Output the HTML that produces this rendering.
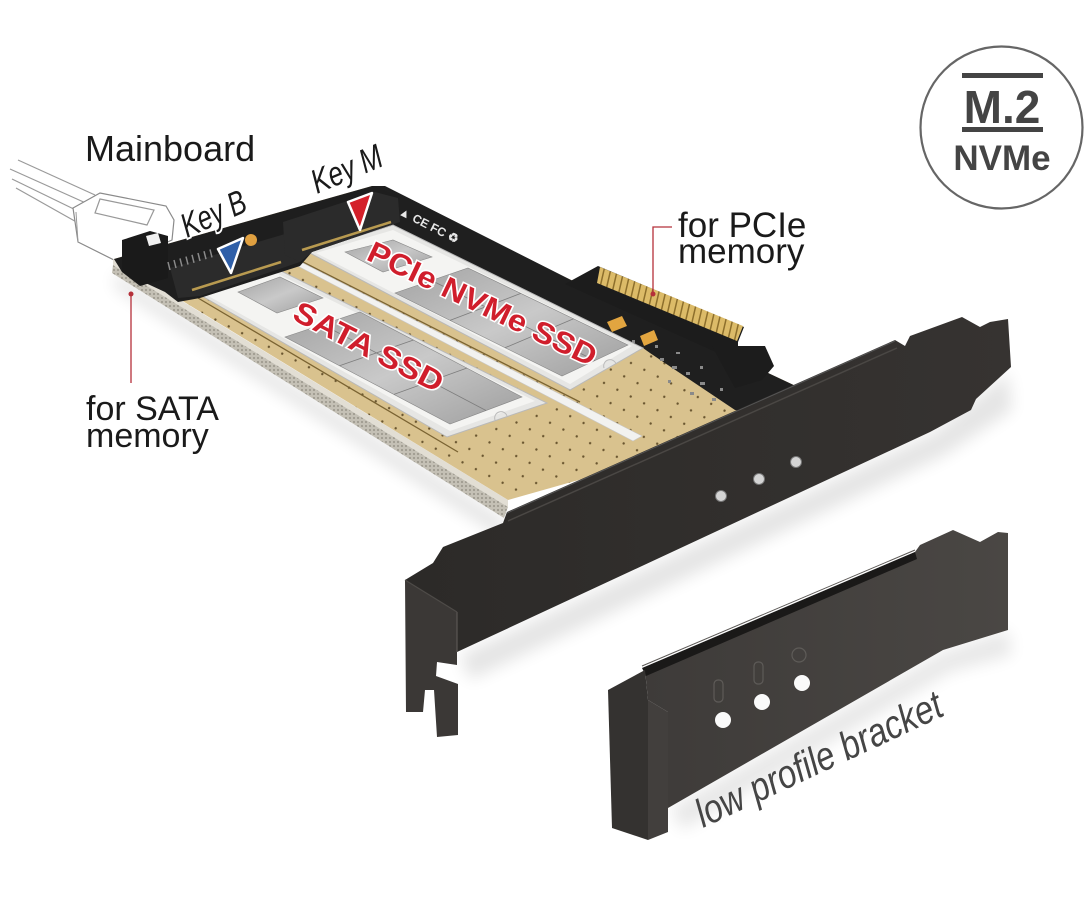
<!DOCTYPE html>
<html><head><meta charset="utf-8">
<style>
html,body{margin:0;padding:0;background:#fff;}
svg{display:block;}
text{font-family:"Liberation Sans",Arial,sans-serif;}
</style></head>
<body>
<svg width="1090" height="900" viewBox="0 0 1090 900" xmlns="http://www.w3.org/2000/svg">
<defs>
 <filter id="blur8" x="-30%" y="-30%" width="160%" height="160%"><feGaussianBlur stdDeviation="8"/></filter>
 <filter id="blur4" x="-30%" y="-30%" width="160%" height="160%"><feGaussianBlur stdDeviation="4"/></filter>
 <pattern id="dots" width="15" height="15" patternUnits="userSpaceOnUse" patternTransform="rotate(27)"><circle cx="7" cy="7" r="1.2" fill="#6a5630"/></pattern>
 <pattern id="fing" width="6.5" height="40" patternUnits="userSpaceOnUse" patternTransform="rotate(13)"><rect width="6.5" height="40" fill="#dcbb68"/><rect x="5" width="1.5" height="40" fill="#8d6f2c"/></pattern>
 <pattern id="rail" width="4" height="4" patternUnits="userSpaceOnUse"><rect width="4" height="4" fill="#c4c0b5"/><circle cx="2" cy="2" r="0.9" fill="#8c887d"/></pattern>
 <linearGradient id="chip" x1="0" y1="0" x2="1" y2="1"><stop offset="0" stop-color="#a3a3a3"/><stop offset="0.5" stop-color="#c9c9c9"/><stop offset="1" stop-color="#9e9e9e"/></linearGradient>
 <linearGradient id="brk" x1="0" y1="0" x2="1" y2="0"><stop offset="0" stop-color="#2c2a28"/><stop offset="1" stop-color="#363331"/></linearGradient>
 <linearGradient id="lp" x1="0" y1="0" x2="1" y2="0"><stop offset="0" stop-color="#3e3b39"/><stop offset="1" stop-color="#4a4744"/></linearGradient>
</defs>

<rect width="1090" height="900" fill="#fff"/>

<!-- shadows -->
<polygon points="115,272 505,520 505,540 115,288" fill="#000" opacity="0.10" filter="url(#blur8)"/>
<polygon points="460,655 935,432 1008,372 1012,410 945,455 470,680" fill="#000" opacity="0.10" filter="url(#blur8)"/>
<polygon points="670,808 943,652 1008,630 1012,655 950,672 682,830" fill="#000" opacity="0.09" filter="url(#blur8)"/>

<!-- cable -->
<g stroke="#9a9a9a" stroke-width="1.2" fill="none">
 <line x1="18" y1="160" x2="95" y2="195"/>
 <line x1="10" y1="169" x2="88" y2="204"/>
 <line x1="12" y1="179" x2="84" y2="214"/>
 <line x1="16" y1="188" x2="80" y2="224"/>
</g>
<!-- plug -->
<polygon points="73,208 100,193 166,206 174,220 172,240 132,258 118,262 78,242" fill="#fff" stroke="#8a8a8a" stroke-width="1.2"/>
<polygon points="100,199 154,210 147,225 95,213" fill="none" stroke="#999" stroke-width="1.2"/>
<line x1="78" y1="242" x2="76" y2="212" stroke="#999" stroke-width="1"/>

<!-- board base -->
<polygon points="114,259 372,186 800,388 790,420 508,500" fill="#d9c28e"/>
<polygon points="114,259 372,186 800,388 790,420 508,500" fill="url(#dots)"/>

<!-- front rail -->
<polygon points="113,259 508,500 508,507 113,265" fill="#e2ded4"/>
<polygon points="113,265 508,507 504,518 112,273" fill="url(#rail)"/>

<!-- black back strip -->
<polygon points="372,186 385,186 575,282 800,388 800,420 735,410 650,353 643,348 393,225 375,228" fill="#1f1f1f"/>
<!-- PCIe tab -->
<polygon points="565,284 598,266 744,327 738,342 738,362" fill="#1c1c1c"/>
<polygon points="600,267 743,326 737,341 597,283" fill="url(#fing)"/>
<polygon points="712,346 765,346 774,366 762,380 735,388" fill="#1c1c1c"/>
<!-- components -->
<g fill="#8a8a8a">
 <rect x="660" y="358" width="4" height="3"/><rect x="672" y="366" width="5" height="3"/><rect x="686" y="372" width="4" height="3"/>
 <rect x="700" y="382" width="5" height="3"/><rect x="668" y="380" width="3" height="3"/><rect x="690" y="392" width="4" height="3"/>
 <rect x="712" y="398" width="4" height="3"/><rect x="655" y="345" width="3" height="3"/><rect x="676" y="352" width="4" height="2"/>
 <rect x="632" y="340" width="3" height="3"/><rect x="700" y="366" width="3" height="3"/><rect x="720" y="388" width="3" height="3"/>
</g>
<polygon points="607,322 622,316 627,326 612,332" fill="#e2a540"/>
<polygon points="640,336 654,330 658,340 644,346" fill="#e2a540"/>

<!-- slot lines -->
<line x1="198" y1="298" x2="458" y2="452" stroke="#7a6332" stroke-width="1.3"/>
<line x1="303" y1="262" x2="580" y2="402" stroke="#7a6332" stroke-width="1.3"/>

<!-- divider strip -->
<polygon points="290,262 297,260 642,436 633,441" fill="#f2f2f0" stroke="#c8c8c8" stroke-width="0.6"/>

<!-- SATA module -->
<polygon points="195,292 265,263 547,403 447,437" fill="#e6e6e4" stroke="#b9b9b9" stroke-width="1"/>
<polygon points="203,293 266,268 535,401 450,431" fill="#f4f4f2"/>
<polygon points="238,292 280,277 323,298 277,313" fill="url(#chip)" stroke="#888" stroke-width="0.6"/>
<polygon points="285,337 360,312 522,397 450,424" fill="url(#chip)" stroke="#888" stroke-width="0.6"/>
<g stroke="#7d7d7d" stroke-width="0.8">
 <line x1="339.5" y1="365.7" x2="413.5" y2="340"/>
 <line x1="394" y1="394.4" x2="467" y2="368"/>
 <line x1="322.5" y1="324.5" x2="486" y2="410.5"/>
</g>
<path d="M495,420 a6,6 0 0,1 12,-4" fill="none" stroke="#bbb" stroke-width="1"/>

<!-- PCIe module -->
<polygon points="308,252 393,225 643,348 570,390" fill="#e6e6e4" stroke="#b9b9b9" stroke-width="1"/>
<polygon points="316,253 393,230 632,346 570,384" fill="#f4f4f2"/>
<polygon points="345,252 393,240 432,257 383,272" fill="url(#chip)" stroke="#888" stroke-width="0.6"/>
<polygon points="395,293 468,268 628,345 562,376" fill="url(#chip)" stroke="#888" stroke-width="0.6"/>
<g stroke="#7d7d7d" stroke-width="0.8">
 <line x1="450" y1="320.4" x2="520.8" y2="293.4"/>
 <line x1="505" y1="347.8" x2="573.6" y2="318.8"/>
 <line x1="431.5" y1="280.5" x2="595" y2="360.5"/>
</g>
<path d="M604,368 a6,6 0 0,1 12,-4" fill="none" stroke="#bbb" stroke-width="1"/>

<!-- logos on black strip -->
<text x="0" y="0" transform="translate(398,214) rotate(27)" font-size="12" fill="#e8e8e8" font-weight="bold">▲ CE  FC ♻</text>

<!-- left end black -->
<polygon points="114,259 372,186 398,196 400,222 312,252 300,266 200,298 178,302 165,292 122,272" fill="#1e1e1e"/>
<!-- Key B connector -->
<polygon points="170,268 285,234 300,240 300,262 200,296 178,298" fill="#2b2b2b"/>
<line x1="192" y1="290" x2="281" y2="262" stroke="#b89a50" stroke-width="2.5"/>
<!-- Key M connector -->
<polygon points="283,222 375,192 398,198 400,222 312,252 300,262 285,255" fill="#2b2b2b"/>
<line x1="302" y1="250" x2="391" y2="222" stroke="#b89a50" stroke-width="2.5"/>
<!-- SATA header -->
<polygon points="122,240 150,231 168,236 168,278 140,286 122,272" fill="#1a1a1a"/>
<polygon points="146,236 158,233 161,243 149,246" fill="#f0f0f0"/>
<g stroke="#8a8a8a" stroke-width="1.5">
 <line x1="168" y1="262" x2="170" y2="270"/><line x1="174" y1="260" x2="176" y2="268"/>
 <line x1="180" y1="258.4" x2="182" y2="266.4"/><line x1="186" y1="256.6" x2="188" y2="264.6"/>
 <line x1="192" y1="254.8" x2="194" y2="262.8"/><line x1="198" y1="253" x2="200" y2="261"/>
 <line x1="204" y1="251.2" x2="206" y2="259.2"/><line x1="210" y1="249.4" x2="212" y2="257.4"/>
</g>
<circle cx="251" cy="240" r="6" fill="#e0a040"/>

<!-- red SSD labels -->
<text x="0" y="0" transform="translate(364,356) rotate(27)" text-anchor="middle" font-size="30" font-weight="bold" fill="#d01e2c" stroke="#fff" stroke-width="3" paint-order="stroke" textLength="164" lengthAdjust="spacingAndGlyphs">SATA SSD</text>
<text x="0" y="0" transform="translate(478,313) rotate(25.5)" text-anchor="middle" font-size="30" font-weight="bold" fill="#d01e2c" stroke="#fff" stroke-width="3" paint-order="stroke" textLength="250" lengthAdjust="spacingAndGlyphs">PCIe NVMe SSD</text>

<!-- triangles -->
<polygon points="218,249 243,238 231,273" fill="#2f5fa8" stroke="#fff" stroke-width="2.5" stroke-linejoin="round"/>
<polygon points="348,202 372,193 360,230" fill="#d4202a" stroke="#fff" stroke-width="2.5" stroke-linejoin="round"/>

<!-- big bracket -->
<polygon points="405,580 433,563 443,547 503,523 507,512 895,340 905,346 910,336 962,317 980,327 990,322 1008,319 1011,367 976,399 971,410 930,432 457,652 457,612" fill="url(#brk)"/>
<line x1="507" y1="513" x2="895" y2="341" stroke="#555" stroke-width="1"/>
<line x1="508" y1="521" x2="897" y2="348" stroke="#4a4744" stroke-width="1.5"/>
<polygon points="405,580 457,612 457,665 437,662 436,676 458,684 458,735 437,737 434,690 425,690 423,712 406,712" fill="#3b3836"/>
<line x1="457" y1="612" x2="457" y2="652" stroke="#5a5754" stroke-width="1.2"/>
<line x1="405" y1="580" x2="457" y2="612" stroke="#4e4b48" stroke-width="1.2"/>
<g fill="#d4d4d4" stroke="#777" stroke-width="1">
 <circle cx="721" cy="496" r="5.5"/><circle cx="759" cy="479" r="5.5"/><circle cx="796" cy="462" r="5.5"/>
</g>

<!-- low profile bracket -->
<polygon points="645,670 915,552 920,545 953,530 980,542 998,532 1008,533 1008,630 943,650 668,808 668,712 648,700" fill="url(#lp)"/>
<polygon points="642,668 915,552 917,559 646,676" fill="#1a1918"/>
<line x1="642" y1="666" x2="915" y2="550" stroke="#5c5956" stroke-width="1"/>
<polygon points="608,690 645,670 648,700 648,840 612,828" fill="#343230"/>
<polygon points="648,700 668,712 668,832 648,840" fill="#423f3d"/>
<g fill="#fafafa">
 <circle cx="723" cy="720" r="8"/><circle cx="762" cy="702" r="8"/><circle cx="802" cy="683" r="8"/>
</g>
<g fill="none" stroke="#5e5b58" stroke-width="1.2">
 <rect x="714" y="680" width="9" height="22" rx="4"/><rect x="754" y="662" width="9" height="22" rx="4"/><circle cx="799" cy="655" r="7"/>
</g>

<!-- labels -->
<text x="85" y="161" font-size="36" fill="#1a1a1a">Mainboard</text>
<text x="86" y="420" font-size="34" fill="#1a1a1a">for SATA</text>
<text x="86" y="447" font-size="34" fill="#1a1a1a">memory</text>
<text x="678" y="237" font-size="35" fill="#1a1a1a">for PCIe</text>
<text x="678" y="263" font-size="35" fill="#1a1a1a">memory</text>

<!-- leaders -->
<line x1="131" y1="294" x2="131" y2="383" stroke="#b5303a" stroke-width="1.3"/>
<circle cx="131" cy="294" r="2.5" fill="#b5303a"/>
<path d="M672,227 H653 V294" fill="none" stroke="#b5303a" stroke-width="1.3"/>
<circle cx="653" cy="294" r="2.5" fill="#b5303a"/>

<!-- Key labels -->
<text x="0" y="0" transform="translate(187,238) rotate(-24)" font-size="34" font-style="italic" fill="#1a1a1a" stroke="#fff" stroke-width="4" paint-order="stroke" textLength="68" lengthAdjust="spacingAndGlyphs">Key B</text>
<text x="0" y="0" transform="translate(317,194) rotate(-23)" font-size="34" font-style="italic" fill="#1a1a1a" stroke="#fff" stroke-width="4" paint-order="stroke" textLength="74" lengthAdjust="spacingAndGlyphs">Key M</text>

<text x="0" y="0" transform="translate(703,828) rotate(-25)" font-size="40" font-style="italic" fill="#454545" textLength="268" lengthAdjust="spacingAndGlyphs">low profile bracket</text>

<!-- badge -->
<circle cx="1001.5" cy="127.5" r="81" fill="#fff" stroke="#666" stroke-width="2.2"/>
<rect x="962" y="73" width="81" height="5" fill="#444"/>
<rect x="962" y="127" width="81" height="5" fill="#444"/>
<text x="1002" y="123" text-anchor="middle" font-size="46" font-weight="bold" fill="#444">M.2</text>
<text x="1002" y="170" text-anchor="middle" font-size="35" font-weight="bold" fill="#444">NVMe</text>
</svg>
</body></html>
